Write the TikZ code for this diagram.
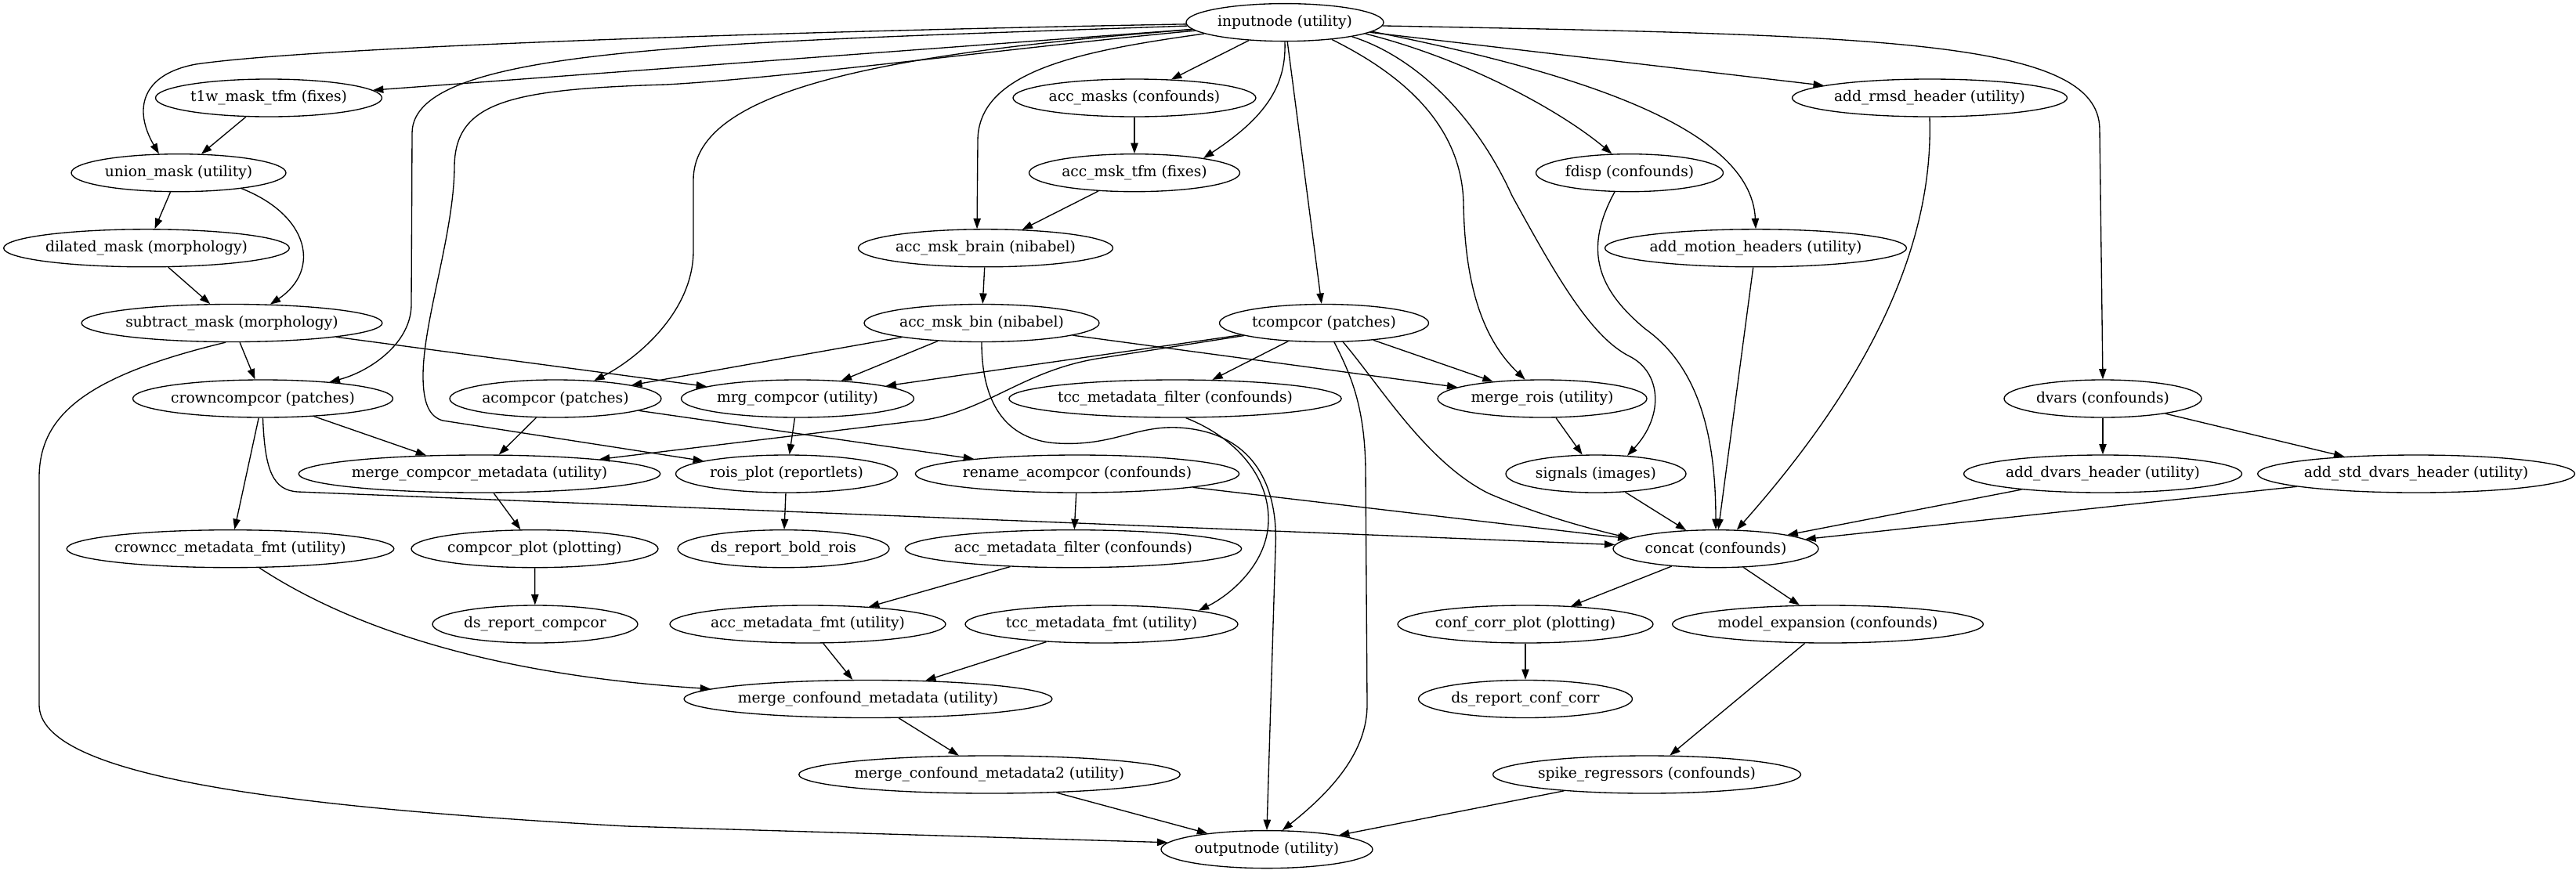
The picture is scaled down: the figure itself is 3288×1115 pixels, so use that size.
\documentclass[tikz,border=0pt]{standalone}
\usepackage{fontspec}
\setmainfont{DejaVu Serif}
\usetikzlibrary{shapes.geometric,arrows.meta}
\begin{document}
\begin{tikzpicture}[x=0.75pt,y=-0.75pt,
  nd/.style={draw, ellipse, line width=1pt, inner sep=0pt, minimum height=36pt,
    font=\fontsize{14pt}{16pt}\selectfont},
  wd/.style={minimum width=#1*0.75pt},
  arr/.style={-{Triangle[length=10pt,width=7pt]}, line width=1pt}]
\fill[white] (0,0) rectangle (3288,1115);
\useasboundingbox (0,0) rectangle (3288,1115);
% nodes
\node[nd,wd=252] (inputnode) at (1640,28.6) {inputnode (utility)};
\node[nd,wd=289] (t1w) at (343,125) {t1w\_mask\_tfm (fixes)};
\node[nd,wd=310] (accmasks) at (1448,125) {acc\_masks (confounds)};
\node[nd,wd=351] (rmsd) at (2463,125) {add\_rmsd\_header (utility)};
\node[nd,wd=274] (union) at (228,220.7) {union\_mask (utility)};
\node[nd,wd=269] (acctfm) at (1448,220.7) {acc\_msk\_tfm (fixes)};
\node[nd,wd=239] (fdisp) at (2080,220.7) {fdisp (confounds)};
\node[nd,wd=363] (dilated) at (187,316.8) {dilated\_mask (morphology)};
\node[nd,wd=322] (accbrain) at (1258,316.8) {acc\_msk\_brain (nibabel)};
\node[nd,wd=385] (motion) at (2241,316.8) {add\_motion\_headers (utility)};
\node[nd,wd=382] (subtract) at (296,412.5) {subtract\_mask (morphology)};
\node[nd,wd=300] (accbin) at (1253,412.5) {acc\_msk\_bin (nibabel)};
\node[nd,wd=267] (tcompcor) at (1690,412.5) {tcompcor (patches)};
\node[nd,wd=331] (crown) at (335.5,509) {crowncompcor (patches)};
\node[nd,wd=270] (acompcor) at (709,509) {acompcor (patches)};
\node[nd,wd=297] (mrg) at (1018,509) {mrg\_compcor (utility)};
\node[nd,wd=418] (tccfilter) at (1500,509) {tcc\_metadata\_filter (confounds)};
\node[nd,wd=267] (mergerois) at (1968.5,509) {merge\_rois (utility)};
\node[nd,wd=252] (dvars) at (2684,509) {dvars (confounds)};
\node[nd,wd=452] (mcm) at (612,605) {merge\_compcor\_metadata (utility)};
\node[nd,wd=283] (rois) at (1004,605) {rois\_plot (reportlets)};
\node[nd,wd=406] (rename) at (1375,605) {rename\_acompcor (confounds)};
\node[nd,wd=230] (signals) at (2037,605) {signals (images)};
\node[nd,wd=355] (dvarsh) at (2684,605) {add\_dvars\_header (utility)};
\node[nd,wd=404] (stddvars) at (3084,605) {add\_std\_dvars\_header (utility)};
\node[nd,wd=412] (crownfmt) at (294,700.7) {crowncc\_metadata\_fmt (utility)};
\node[nd,wd=315] (compcorplot) at (682.5,700.7) {compcor\_plot (plotting)};
\node[nd,wd=270] (dsrois) at (1000,700.7) {ds\_report\_bold\_rois};
\node[nd,wd=420] (accfilter) at (1370,700.7) {acc\_metadata\_filter (confounds)};
\node[nd,wd=262] (concat) at (2190,700.7) {concat (confounds)};
\node[nd,wd=262] (dscompcor) at (683,797) {ds\_report\_compcor};
\node[nd,wd=352] (accfmt) at (1031,797) {acc\_metadata\_fmt (utility)};
\node[nd,wd=348] (tccfmt) at (1406,797) {tcc\_metadata\_fmt (utility)};
\node[nd,wd=326] (corrplot) at (1947,797) {conf\_corr\_plot (plotting)};
\node[nd,wd=396] (modelexp) at (2333,797) {model\_expansion (confounds)};
\node[nd,wd=460] (mconf) at (1108,892.5) {merge\_confound\_metadata (utility)};
\node[nd,wd=273] (dscorr) at (1947,892.5) {ds\_report\_conf\_corr};
\node[nd,wd=477] (mconf2) at (1263,989) {merge\_confound\_metadata2 (utility)};
\node[nd,wd=391] (spike) at (2102,989) {spike\_regressors (confounds)};
\node[nd,wd=270] (outputnode) at (1617,1084.6) {outputnode (utility)};
% edges from inputnode
\draw[arr] (inputnode) -- (t1w);
\draw[arr] (inputnode) .. controls (1000,40) and (400,60) .. (250,82) .. controls (180,95) and (170,140) .. (union.136);
\draw[arr] (inputnode) .. controls (900,55) and (526,60) .. (526,170) -- (525,390) .. controls (524,440) and (470,475) .. (crown.14);
\draw[arr] (inputnode) .. controls (1300,60) and (1000,100) .. (850,108) .. controls (650,114) and (580,130) .. (580,214) .. controls (579,300) and (540,410) .. (540,480) .. controls (540,515) and (548,532) .. (565,537) -- (rois);
\draw[arr] (inputnode) .. controls (1100,70) and (885,120) .. (885,230) -- (885,320) .. controls (885,400) and (810,460) .. (acompcor.25);
\draw[arr] (inputnode) .. controls (1380,65) and (1248,90) .. (1248,180) -- (accbrain.114);
\draw[arr] (inputnode) -- (accmasks);
\draw[arr] (inputnode.-90) .. controls (1642,110) and (1615,150) .. (acctfm.12);
\draw[arr] (inputnode) -- (tcompcor);
\draw[arr] (inputnode.-20) .. controls (1790,95) and (1866,160) .. (1868,260) .. controls (1870,380) and (1900,440) .. (mergerois.132);
\draw[arr] (inputnode.-12) .. controls (1800,70) and (1880,140) .. (1930,250) .. controls (1985,350) and (2030,430) .. (2080,455) .. controls (2120,475) and (2125,530) .. (signals.30);
\draw[arr] (inputnode.-8) .. controls (1870,75) and (1990,140) .. (fdisp.133);
\draw[arr] (inputnode.-6) .. controls (2000,90) and (2235,160) .. (motion.north);
\draw[arr] (inputnode) -- (rmsd);
\draw[arr] (inputnode.-2) .. controls (2400,45) and (2679,50) .. (2680,165) -- (dvars.north);
% mask branch
\draw[arr] (t1w) -- (union);
\draw[arr] (union) -- (dilated);
\draw[arr] (union.-14) .. controls (395,275) and (410,345) .. (subtract.26);
\draw[arr] (dilated) -- (subtract);
\draw[arr] (subtract) -- (crown);
\draw[arr] (subtract) -- (mrg);
\draw[arr] (subtract.-108) .. controls (110,480) and (50,530) .. (50,610) -- (50,900) .. controls (50,990) and (350,1030) .. (800,1055) -- (outputnode.176);
\draw[arr] (accmasks) -- (acctfm);
\draw[arr] (acctfm) -- (accbrain);
\draw[arr] (accbrain) -- (accbin);
\draw[arr] (accbin) -- (acompcor);
\draw[arr] (accbin) -- (mrg);
\draw[arr] (accbin) -- (mergerois);
\draw[arr] (accbin.south) .. controls (1253,510) and (1280,562) .. (1350,566) .. controls (1420,570) and (1450,543) .. (1505,546) .. controls (1600,552) and (1632,620) .. (1628,700) -- (outputnode.north);
% tcompcor
\draw[arr] (tcompcor) -- (tccfilter);
\draw[arr] (tcompcor) -- (mergerois);
\draw[arr] (tcompcor) -- (mrg);
\draw[arr] (tcompcor) -- (1400,458) .. controls (1300,475) and (1255,530) .. (1165,538) -- (mcm);
\draw[arr] (tcompcor.-45) .. controls (1760,490) and (1820,590) .. (1900,630) .. controls (1970,660) and (2030,675) .. (concat.173);
\draw[arr] (tcompcor.-62) .. controls (1725,480) and (1742,520) .. (1743,600) -- (1745,900) .. controls (1745,960) and (1700,1010) .. (outputnode.51);
\draw[arr] (tccfilter.-61) .. controls (1580,560) and (1620,610) .. (1619,665) .. controls (1618,720) and (1570,760) .. (tccfmt.8);
% compcor branch
\draw[arr] (crown) -- (mcm);
\draw[arr] (crown) -- (crownfmt);
\draw[arr] (crown.south) .. controls (338,600) and (348,626) .. (380,628) -- (concat);
\draw[arr] (acompcor) -- (mcm);
\draw[arr] (acompcor) -- (rename);
\draw[arr] (mrg) -- (rois);
\draw[arr] (mergerois) -- (signals);
\draw[arr] (dvars) -- (dvarsh);
\draw[arr] (dvars) -- (stddvars);
\draw[arr] (mcm) -- (compcorplot);
\draw[arr] (rois) -- (dsrois);
\draw[arr] (rename) -- (accfilter);
\draw[arr] (rename) -- (concat);
\draw[arr] (signals) -- (concat);
\draw[arr] (fdisp.-128) .. controls (2020,320) and (2040,370) .. (2100,420) .. controls (2170,470) and (2190,560) .. (concat.north);
\draw[arr] (motion) -- (concat);
\draw[arr] (rmsd.south) .. controls (2468,300) and (2400,470) .. (concat.42);
\draw[arr] (dvarsh) -- (concat);
\draw[arr] (stddvars) -- (concat);
\draw[arr] (crownfmt) .. controls (430,790) and (600,860) .. (mconf);
\draw[arr] (compcorplot) -- (dscompcor);
\draw[arr] (accfilter) -- (accfmt);
\draw[arr] (concat) -- (corrplot);
\draw[arr] (concat) -- (modelexp);
\draw[arr] (accfmt) -- (mconf);
\draw[arr] (tccfmt) -- (mconf);
\draw[arr] (corrplot) -- (dscorr);
\draw[arr] (modelexp) -- (spike);
\draw[arr] (mconf) -- (mconf2);
\draw[arr] (mconf2) -- (outputnode);
\draw[arr] (spike) -- (outputnode);
\end{tikzpicture}
\end{document}
